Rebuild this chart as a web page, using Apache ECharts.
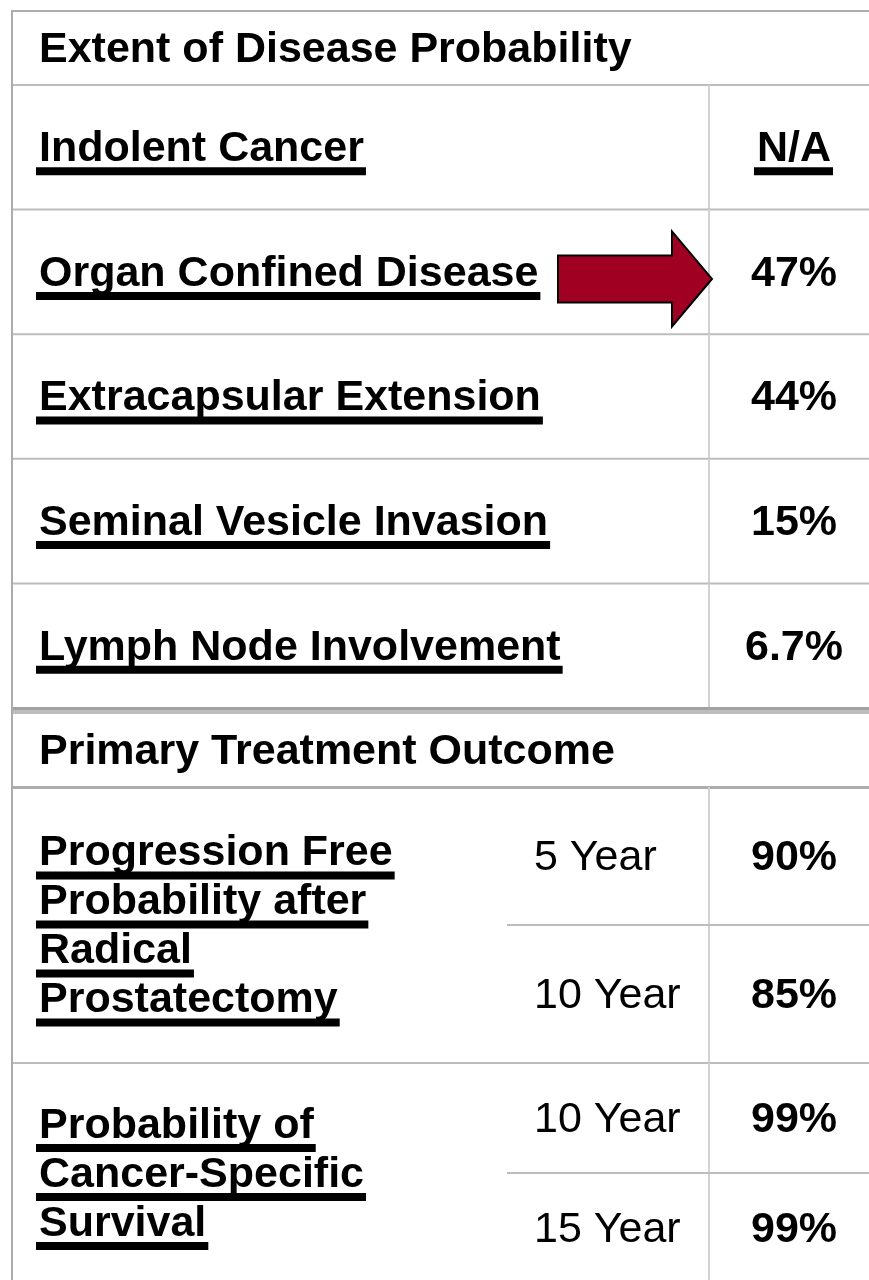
<!DOCTYPE html>
<html>
<head>
<meta charset="utf-8">
<script src="https://cdn.jsdelivr.net/npm/echarts@6/dist/echarts.min.js"></script>
<style>
  html, body { margin: 0; padding: 0; background: #fff; }
  #chart { width: 869px; height: 1280px; }
</style>
</head>
<body>
<div id="chart"></div>
<script>
// section headings
const sectionTitles = ['Extent of Disease Probability', 'Primary Treatment Outcome'];

// extent of disease
const diseaseLabels = [
  'Indolent Cancer',
  'Organ Confined Disease',
  'Extracapsular Extension',
  'Seminal Vesicle Invasion',
  'Lymph Node Involvement'
];
const diseaseValues = ['N/A', '47%', '44%', '15%', '6.7%'];
const highlightedLabel = 'Organ Confined Disease';

// primary treatment outcome
const outcomeLabels = [
  ['Progression Free', 'Probability after', 'Radical', 'Prostatectomy'],
  ['Probability of', 'Cancer-Specific', 'Survival']
];
const outcomeHorizons = [['5 Year', '10 Year'], ['10 Year', '15 Year']];
const outcomeValues = [['90%', '85%'], ['99%', '99%']];

// layout (px)
const W = 869, H = 1280;
const L = {
  left: 12, top: 11, right: 879,
  subCol: 507, valCol: 709, pad: 27,
  headH: 74, rowH: 124.6, sepH: 7, headH2: 73,
  outRowH: [138, 110], lineGap: 49, textDy: 2
};
const FONT = '"Liberation Sans", Arial, sans-serif';
const SIZE = 43;
const INK = '#000';
const BORDER = '#acacac';
const RULE = '#bcbcbc';
const VRULE = '#d2d2d2';
const ARROW = '#a00022';

const measureCtx = document.createElement('canvas').getContext('2d');
const textWidth = (str, bold) => {
  measureCtx.font = (bold ? 'bold ' : '') + SIZE + 'px ' + FONT;
  return measureCtx.measureText(str).width;
};

// build the table rows
const rows = [];
let y = L.top;
rows.push({ kind: 'title', text: sectionTitles[0], y0: y, y1: y + L.headH, first: true });
y += L.headH;
diseaseLabels.forEach((lab, i) => {
  rows.push({ kind: 'disease', label: lab, value: diseaseValues[i], y0: y, y1: y + L.rowH,
    last: i === diseaseLabels.length - 1 });
  y += L.rowH;
});
rows.push({ kind: 'separator', y0: y - 1, y1: y - 1 + L.sepH });
y += L.sepH - 1;
rows.push({ kind: 'title', text: sectionTitles[1], y0: y, y1: y + L.headH2 });
y += L.headH2;
outcomeLabels.forEach((lines, g) => {
  const h = L.outRowH[g];
  rows.push({ kind: 'outcome', lines, horizons: outcomeHorizons[g], values: outcomeValues[g],
    y0: y, y1: y + 2 * h, h });
  y += 2 * h;
});
rows.push({ kind: 'frame', y0: L.top, y1: H });

function renderItem(params, api) {
  const row = rows[params.dataIndex];
  const kids = [];

  const box = (x0, y0, x1, y1, fill) => {
    const a = api.coord([x0, y0]), b = api.coord([x1, y1]);
    kids.push({
      type: 'rect',
      shape: { x: Math.min(a[0], b[0]), y: Math.min(a[1], b[1]),
        width: Math.abs(b[0] - a[0]), height: Math.abs(b[1] - a[1]) },
      style: { fill }
    });
  };
  const text = (str, x, cy, bold, align, underline) => {
    const c = api.coord([x, cy + L.textDy]);
    kids.push({
      type: 'text', x: c[0], y: c[1],
      style: { text: str, fill: INK, fontSize: SIZE, fontFamily: FONT,
        fontWeight: bold ? 'bold' : 'normal', align: align || 'left', verticalAlign: 'middle' }
    });
    if (underline) {
      const w = textWidth(str, bold);
      const x0 = align === 'center' ? x - w / 2 : x;
      box(x0 - 3, cy + 20, x0 + w + 2, cy + 28, INK);
    }
  };
  const mid = (row.y0 + row.y1) / 2;
  const valX = (L.valCol + L.right) / 2;

  if (row.kind === 'title') {
    if (row.first) box(L.left, row.y0 - 1, W, row.y0 + 1, BORDER);
    text(row.text, L.left + L.pad, mid, true);
    box(L.left, row.y1 - 1, W, row.y1 + (row.first ? 1 : 2), row.first ? RULE : BORDER);
  } else if (row.kind === 'disease') {
    box(L.valCol - 1, row.y0, L.valCol + 1, row.y1, VRULE);
    text(row.label, L.left + L.pad, mid, true, 'left', true);
    text(row.value, valX, mid, true, 'center', row.value === 'N/A');
    if (!row.last) box(L.left, row.y1 - 1, W, row.y1 + 1, RULE);
    if (row.label === highlightedLabel) {
      const ay = mid + 7;
      const pts = [
        [L.valCol - 151, ay - 23.5], [L.valCol - 37, ay - 23.5], [L.valCol - 37, ay - 47.5],
        [L.valCol + 3, ay], [L.valCol - 37, ay + 47.5], [L.valCol - 37, ay + 23.5],
        [L.valCol - 151, ay + 23.5]
      ].map(p => api.coord(p));
      kids.push({
        type: 'polygon', shape: { points: pts },
        style: { fill: ARROW, stroke: '#000', lineWidth: 2, lineJoin: 'miter' }
      });
    }
  } else if (row.kind === 'separator') {
    box(L.left, row.y0, W, row.y0 + 3, '#a2a2a2');
    box(L.left, row.y0 + 3, W, row.y1, '#bdbdbd');
  } else if (row.kind === 'outcome') {
    box(L.valCol - 1, row.y0, L.valCol + 1, row.y1, VRULE);
    box(L.subCol, row.y0 + row.h - 1, W, row.y0 + row.h + 1, RULE);
    const n = row.lines.length;
    row.lines.forEach((ln, k) => {
      text(ln, L.left + L.pad, mid + (k - (n - 1) / 2) * L.lineGap, true, 'left', true);
    });
    row.horizons.forEach((hz, k) => {
      const cy = row.y0 + row.h * k + row.h / 2;
      text(hz, L.subCol + L.pad, cy, false, 'left');
      text(row.values[k], valX, cy, true, 'center');
    });
    box(L.left, row.y1 - 1, W, row.y1 + 1, RULE);
  } else if (row.kind === 'frame') {
    box(L.left - 1, row.y0 - 1, L.left + 1, row.y1, BORDER);
  }
  return { type: 'group', children: kids };
}

const chart = echarts.init(document.getElementById('chart'), null, { renderer: 'canvas' });
chart.setOption({
  animation: false,
  backgroundColor: '#fff',
  grid: { left: 0, right: 0, top: 0, bottom: 0 },
  xAxis: { type: 'value', min: 0, max: W, show: false },
  yAxis: { type: 'value', min: 0, max: H, inverse: true, show: false },
  series: [{
    type: 'custom',
    coordinateSystem: 'cartesian2d',
    silent: true,
    clip: false,
    renderItem,
    data: rows.map((r, i) => [i])
  }]
});
</script>
</body>
</html>
